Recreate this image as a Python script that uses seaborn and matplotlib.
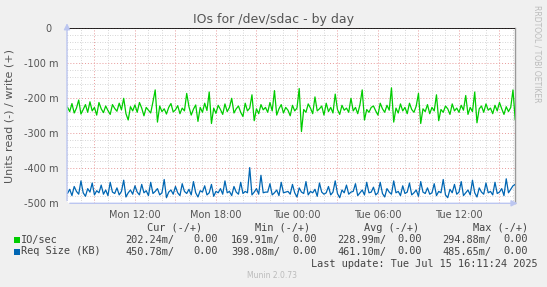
import pandas as pd
import seaborn as sns
import matplotlib.pyplot as plt
import matplotlib.dates as mdates
from matplotlib.patches import Rectangle
from matplotlib.ticker import MultipleLocator, FixedLocator, FixedFormatter, FuncFormatter

# values, in milli-units (drawn on the read / negative side)
io_sec = [
    225, 238, 215, 242, 228, 205, 245, 232, 218, 240, 210, 236, 226, 248, 212, 230, 241, 222, 235, 246,
    218, 229, 237, 214, 233, 200, 244, 262, 224, 236, 219, 240, 212, 228, 250, 226, 234, 242, 210, 176,
    268, 222, 238, 230, 245, 226, 215, 239, 233, 221, 244, 228, 236, 186, 224, 248, 231, 219, 266, 226,
    240, 214, 235, 182, 272, 228, 243, 220, 232, 246, 216, 238, 226, 200, 242, 230, 222, 240, 252, 214,
    236, 228, 190, 264, 230, 244, 218, 233, 226, 240, 212, 236, 178, 248, 230, 218, 242, 226, 234, 250,
    220, 236, 228, 172, 295, 232, 240, 216, 228, 244, 196, 236, 230, 222, 248, 214, 238, 226, 242, 188,
    232, 246, 220, 234, 228, 240, 200, 236, 226, 244, 218, 176, 262, 232, 240, 226, 222, 236, 248, 214,
    230, 240, 220, 234, 170, 268, 228, 242, 216, 236, 226, 244, 214, 232, 240, 222, 186, 272, 230, 238,
    218, 244, 226, 236, 190, 264, 232, 240, 222, 230, 246, 216, 236, 228, 240, 220, 234, 192, 246, 226,
    238, 182, 270, 230, 222, 240, 216, 234, 228, 244, 220, 236, 212, 230, 246, 224, 238, 226, 176, 262,
]
req_size = [
    472, 460, 478, 452, 466, 474, 436, 470, 480, 458, 468, 442, 476, 464, 470, 448, 474, 462, 478, 440,
    468, 472, 456, 476, 466, 434, 482, 470, 462, 474, 450, 468, 476, 446, 470, 464, 478, 440, 472, 466,
    458, 476, 470, 432, 484, 468, 462, 474, 452, 470, 478, 444, 466, 472, 460, 476, 438, 470, 482, 464,
    468, 450, 476, 470, 446, 480, 466, 470, 458, 474, 436, 470, 466, 478, 452, 468, 474, 440, 472, 466,
    470, 398, 476, 468, 458, 474, 420, 470, 468, 468, 444, 476, 470, 462, 478, 440, 470, 468, 466, 474,
    446, 470, 482, 456, 468, 472, 438, 476, 466, 470, 460, 480, 442, 468, 474, 470, 452, 476, 468, 436,
    472, 484, 462, 470, 448, 474, 468, 466, 444, 478, 470, 462, 476, 440, 470, 468, 454, 476, 470, 440,
    472, 482, 458, 468, 474, 436, 470, 466, 478, 450, 472, 468, 442, 476, 470, 462, 480, 438, 468, 472,
    456, 474, 470, 444, 478, 466, 470, 432, 476, 484, 460, 470, 446, 474, 468, 438, 478, 470, 462, 476,
    434, 470, 482, 456, 468, 474, 442, 470, 466, 476, 440, 472, 468, 458, 478, 430, 470, 460, 450, 446,
]

series_names = ["IO/sec", "Req Size (KB)"]
series_colors = ["#00cc00", "#0066b3"]
cur_vals = ["202.24m/", "450.78m/"]
min_vals = ["169.91m/", "398.08m/"]
avg_vals = ["228.99m/", "461.10m/"]
max_vals = ["294.88m/", "485.65m/"]
write_vals = ["0.00", "0.00"]

y_ticks = [0, -0.1, -0.2, -0.3, -0.4, -0.5]
y_labels = ["0  ", "-100 m", "-200 m", "-300 m", "-400 m", "-500 m"]

end_time = pd.Timestamp("2025-07-15 16:10")

frames = []
for name, vals in zip(series_names, [io_sec, req_size]):
    t = pd.date_range(end=end_time, periods=len(vals), freq="10min")
    frames.append(pd.DataFrame({"time": t, "value": [-v / 1000 for v in vals], "series": name}))
df = pd.concat(frames, ignore_index=True)

sns.set_theme(style="white")
plt.rcParams["font.family"] = ["DejaVu Sans"]

W, H = 547, 287
fig = plt.figure(figsize=(W / 100, H / 100), dpi=100, facecolor="#f0f0f0")
ax = fig.add_axes([67 / W, 1 - 203.3 / H, 448 / W, 175 / H])
ax.set_facecolor("white")

sns.lineplot(data=df, x="time", y="value", hue="series", palette=dict(zip(series_names, series_colors)),
             estimator=None, linewidth=0.9, legend=False, ax=ax, zorder=3)
ax.axhline(0, color="black", lw=1.2, zorder=4)

ax.set_xlim(pd.Timestamp("2025-07-14 06:58"), pd.Timestamp("2025-07-15 16:09"))
ax.set_ylim(-0.5, 0)

# grids: red every 3h / 100m, grey every 1h / 20m
ax.xaxis.set_major_locator(mdates.HourLocator(byhour=range(0, 24, 3)))
ax.xaxis.set_minor_locator(mdates.HourLocator())
ax.xaxis.set_major_formatter(FuncFormatter(
    lambda x, p: mdates.num2date(x).strftime("%a %H:%M") if mdates.num2date(x).hour % 6 == 0 else ""))
ax.yaxis.set_major_locator(FixedLocator(y_ticks))
ax.yaxis.set_major_formatter(FixedFormatter(y_labels))
ax.yaxis.set_minor_locator(MultipleLocator(0.02))
ax.grid(which="minor", color="#c8c8c8", lw=0.6, ls=(0, (1, 2)))
ax.grid(which="major", color="#e89a9a", lw=0.7, ls=(0, (1, 2)))
ax.set_axisbelow(True)
ax.tick_params(which="both", length=0, labelsize=7, colors="#555555")
ax.tick_params(axis="y", pad=6)
ax.tick_params(axis="x", pad=5)
ax.set_xlabel("")
ax.set_ylabel("")

for s in ["top", "left", "bottom"]:
    ax.spines[s].set_visible(False)
ax.spines["right"].set_color("#999999")
ax.spines["right"].set_linewidth(1)

# axis arrows
arrow_col = "#bcc6f0"
ax.annotate("", xy=(0, 1.045), xytext=(0, 0), xycoords="axes fraction", zorder=5,
            arrowprops=dict(arrowstyle="-|>", color=arrow_col, lw=1, mutation_scale=9), annotation_clip=False)
ax.annotate("", xy=(1.012, 0), xytext=(0, 0), xycoords="axes fraction", zorder=5,
            arrowprops=dict(arrowstyle="-|>", color=arrow_col, lw=1, mutation_scale=9), annotation_clip=False)

txt = "#555555"
fig.text(0.5, 1 - 20 / H, "IOs for /dev/sdac - by day", ha="center", va="center", fontsize=9, color=txt)
fig.text(10 / W, 1 - 115.8 / H, "Units read (-) / write (+)", rotation=90, ha="center", va="center",
         fontsize=8, color=txt)
fig.text(537 / W, 1 - 5 / H, "RRDTOOL / TOBI OETIKER", rotation=270, ha="center", va="top",
         fontsize=5.5, color="#bbbbbb")

mono = dict(family="DejaVu Sans Mono", fontsize=7.4, color="#444444", va="center", ha="left")
for x, lab in zip([147, 255, 364, 473], ["Cur (-/+)", "Min (-/+)", "Avg (-/+)", "Max (-/+)"]):
    fig.text(x / W, 1 - 228 / H, lab, **mono)
rows_y = [239.5, 251.5]
for i, name in enumerate(series_names):
    y = 1 - rows_y[i] / H
    fig.patches.append(Rectangle((14 / W, y - 3 / H), 6 / W, 6 / H, transform=fig.transFigure,
                                 facecolor=series_colors[i], edgecolor="none"))
    fig.text(21 / W, y, name, **mono)
    for x, v in zip([125, 231, 337, 442], [cur_vals[i], min_vals[i], avg_vals[i], max_vals[i]]):
        fig.text(x / W, y, v, **mono)
    for x in [193, 292, 397, 503]:
        fig.text(x / W, y, write_vals[i], **mono)
fig.text(311 / W, 1 - 264 / H, "Last update: Tue Jul 15 16:11:24 2025", **mono)
fig.text(272 / W, 1 - 276 / H, "Munin 2.0.73", ha="center", va="center", fontsize=5.5, color="#bbbbbb")

fig.savefig("out.png", dpi=100, facecolor=fig.get_facecolor())
